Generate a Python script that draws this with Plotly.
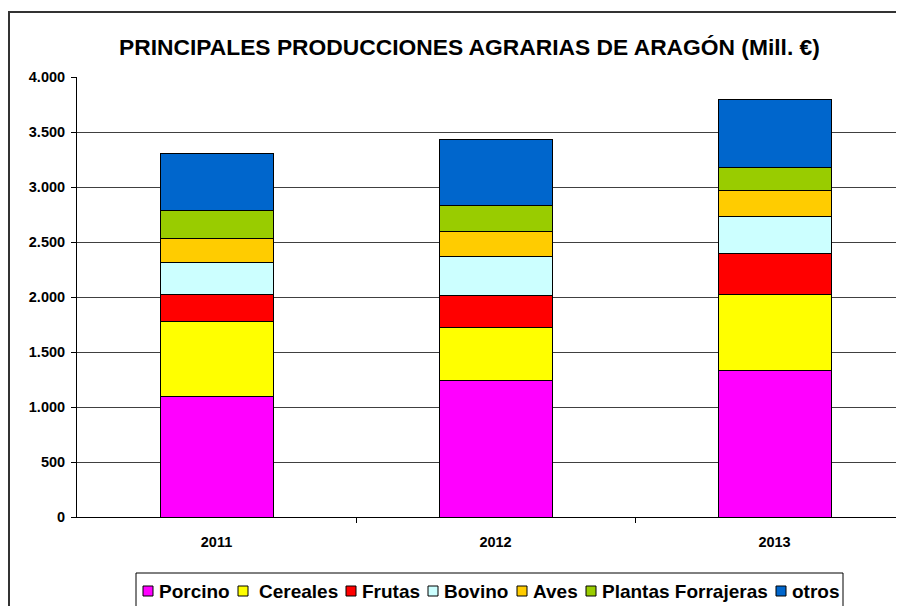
import plotly.graph_objects as go

years = ["2011", "2012", "2013"]
series_names = ["Porcino", " Cereales", "Frutas", "Bovino", "Aves", "Plantas Forrajeras", "otros"]
porcino = [1097, 1244, 1335]
cereales = [676, 481, 690]
frutas = [251, 287, 368]
bovino = [288, 355, 337]
aves = [218, 230, 234]
plantas = [252, 233, 209]
otros = [523, 604, 627]
series_values = [porcino, cereales, frutas, bovino, aves, plantas, otros]
colors = ["#FF00FF", "#FFFF00", "#FF0000", "#CCFFFF", "#FFCC00", "#99CC00", "#0066CC"]
y_ticks = [0, 500, 1000, 1500, 2000, 2500, 3000, 3500, 4000]

# page has an 8px body margin: figure is laid out in screen coords minus 8
OFF = 8
W, H = 904 - OFF, 606 - OFF
L, R, T, B = 77 - OFF, 904 - OFF, 69, 509
pw, ph = R - L, B - T


def px_x(sx):
    return (sx - OFF - L) / pw


def px_y(sy):
    return (B - (sy - OFF)) / ph


font_fam = "Liberation Sans, Arial, sans-serif"

fig = go.Figure()
for name, vals, col in zip(series_names, series_values, colors):
    fig.add_trace(go.Bar(
        x=[0, 1, 2], y=vals, name=name, width=0.405,
        marker=dict(color=col, line=dict(color="#000000", width=1)),
    ))

shapes = [
    # outer chart frame
    dict(type="rect", xref="paper", yref="paper",
         x0=px_x(9), x1=px_x(960), y0=px_y(12), y1=px_y(700),
         line=dict(color="#333333", width=2), fillcolor="rgba(0,0,0,0)", layer="below"),
    # legend box
    dict(type="rect", xref="paper", yref="paper",
         x0=px_x(136), x1=px_x(843), y0=px_y(573), y1=px_y(700),
         line=dict(color="#000000", width=1), fillcolor="white", layer="above"),
]

annotations = [dict(
    text="PRINCIPALES PRODUCCIONES AGRARIAS DE ARAGÓN (Mill. €)",
    xref="paper", yref="paper", x=px_x(469), y=px_y(47),
    xanchor="center", yanchor="middle", showarrow=False,
    font=dict(size=22.8, weight="bold", family=font_fam),
)]

# manual legend entries (symbol left x, text left x) in screen pixels
sym_x = [143, 238, 346, 428, 517, 586, 776]
txt_x = [158, 258, 361, 443, 532, 601, 791]
for name, col, sx, tx in zip(series_names, colors, sym_x, txt_x):
    shapes.append(dict(type="rect", xref="paper", yref="paper",
                       x0=px_x(sx), x1=px_x(sx + 10), y0=px_y(586), y1=px_y(596),
                       line=dict(color="#000000", width=1), fillcolor=col, layer="above"))
    annotations.append(dict(text=name.strip(), xref="paper", yref="paper",
                            x=px_x(tx), y=px_y(591), xanchor="left", yanchor="middle",
                            showarrow=False, borderpad=0,
                            font=dict(size=19, weight="bold", family=font_fam)))

fig.update_layout(
    width=W, height=H,
    barmode="stack",
    separators=",.",
    paper_bgcolor="white", plot_bgcolor="white",
    margin=dict(l=L, r=W - R, t=T, b=H - B, autoexpand=False),
    font=dict(family=font_fam, color="#000000"),
    showlegend=False,
    annotations=annotations,
    shapes=shapes,
)

fig.update_yaxes(
    range=[0, 4000], tickvals=y_ticks, tickformat=",d",
    showgrid=True, gridcolor="#404040", gridwidth=1,
    showline=True, linecolor="#000000", linewidth=1,
    ticks="outside", ticklen=5, tickcolor="#000000",
    tickfont=dict(size=14.5, weight="bold", family=font_fam),
    ticklabelstandoff=3, zeroline=False,
)
fig.update_xaxes(
    range=[-0.5, -0.5 + pw / 279.0],
    tickvals=[0, 1, 2], ticktext=years,
    ticks="", showgrid=False,
    showline=True, linecolor="#000000", linewidth=1,
    tickfont=dict(size=14.5, weight="bold", family=font_fam),
    ticklabelstandoff=12,
    minor=dict(tickvals=[0.5, 1.5], ticks="outside", ticklen=5, tickcolor="#000000", showgrid=False),
    zeroline=False,
)

fig.write_html("out.html")
